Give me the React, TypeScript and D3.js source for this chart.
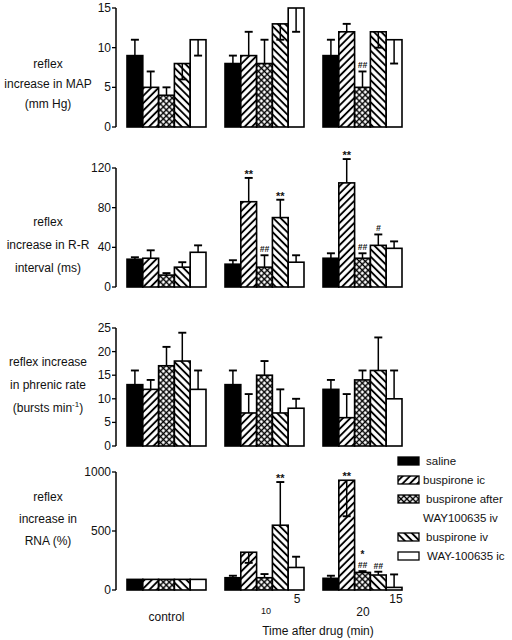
import React from "react";
import * as d3 from "d3";

// ---------- data ----------
const groups = ["control", "10", "20"];
const seriesNames = [
  "saline",
  "buspirone ic",
  "buspirone after WAY100635 iv",
  "buspirone iv",
  "WAY-100635 ic",
];

// MAP (mm Hg): mean and end of the error bar
const mapMean = [
  [9, 5, 4, 8, 11],
  [8, 9, 8, 13, 15],
  [9, 12, 5, 12, 11],
];
const mapErr = [
  [11, 7, 5, 6, 9],
  [9, 12, 11, 11, 12],
  [11, 13, 7, 10, 8],
];

// R-R interval (ms)
const rrMean = [
  [28, 29, 12, 20, 35],
  [23, 86, 20, 70, 25],
  [29, 105, 29, 42, 39],
];
const rrErr = [
  [30, 37, 14, 25, 42],
  [27, 110, 32, 88, 32],
  [34, 129, 34, 53, 46],
];

// phrenic rate (bursts/min)
const phrMean = [
  [13, 12, 17, 18, 12],
  [13, 7, 15, 7, 8],
  [12, 6, 14, 16, 10],
];
const phrErr = [
  [16, 14, 21, 24, 16],
  [16, 11, 18, 12, 10],
  [14, 11, 16, 23, 16],
];

// RNA (%)
const rnaMean = [
  [90, 90, 90, 90, 90],
  [104, 320, 104, 549, 191],
  [99, 930, 149, 127, 22],
];
const rnaErr = [
  [90, 90, 90, 90, 90],
  [121, 230, 135, 915, 282],
  [121, 625, 160, 155, 132],
];

const mapTicks = [0, 5, 10, 15];
const rrTicks = [0, 40, 80, 120];
const phrTicks = [0, 5, 10, 15, 20, 25];
const rnaTicks = [0, 500, 1000];

// significance marks: [group, series, text lines bottom-up]
const mapMarks: [number, number, string[]][] = [[2, 2, ["##"]]];
const rrMarks: [number, number, string[]][] = [
  [1, 1, ["**"]],
  [1, 2, ["##"]],
  [1, 3, ["**"]],
  [2, 1, ["**"]],
  [2, 2, ["##"]],
  [2, 3, ["#"]],
];
const phrMarks: [number, number, string[]][] = [];
const rnaMarks: [number, number, string[]][] = [
  [1, 3, ["**"]],
  [2, 1, ["**"]],
  [2, 2, ["##", "*"]],
  [2, 3, ["##"]],
];

// ---------- layout ----------
const W = 512;
const H = 640;
const AXIS_X = 116;
const FONT = "'Liberation Sans', Arial, Helvetica, sans-serif";

const panels = [
  {
    mean: mapMean, err: mapErr, ticks: mapTicks, max: 15, marks: mapMarks,
    top: 8, bottom: 127,
    label: [{ t: "reflex", y: 68 }, { t: "increase in MAP", y: 88 }, { t: "(mm Hg)", y: 108 }],
  },
  {
    mean: rrMean, err: rrErr, ticks: rrTicks, max: 120, marks: rrMarks,
    top: 168, bottom: 287,
    label: [{ t: "reflex", y: 226 }, { t: "increase in R-R", y: 249 }, { t: "interval (ms)", y: 272 }],
  },
  {
    mean: phrMean, err: phrErr, ticks: phrTicks, max: 25, marks: phrMarks,
    top: 328, bottom: 446,
    label: [{ t: "reflex increase", y: 366 }, { t: "in phrenic rate", y: 389 }, { t: "(bursts min", y: 412, sup: "-1", tail: ")" }],
  },
  {
    mean: rnaMean, err: rnaErr, ticks: rnaTicks, max: 1000, marks: rnaMarks,
    top: 472, bottom: 590,
    label: [{ t: "reflex", y: 501 }, { t: "increase in", y: 523 }, { t: "RNA (%)", y: 545 }],
  },
];

const fills = ["#000", "url(#hatchFwd)", "url(#hatchCross)", "url(#hatchBack)", "#fff"];

const xGroup = d3.scaleBand<number>().domain([0, 1, 2]).range([127, 402]).paddingInner(0.194).paddingOuter(0);
const xSeries = d3.scaleBand<number>().domain([0, 1, 2, 3, 4]).range([0, xGroup.bandwidth()]).padding(0);

function Panel({ p }: { p: (typeof panels)[number] }) {
  const y = d3.scaleLinear().domain([0, p.max]).range([p.bottom, p.top]);
  const bw = xSeries.bandwidth();
  return (
    <g>
      {/* axis */}
      <line x1={AXIS_X} x2={AXIS_X} y1={y(p.max)} y2={y(0)} stroke="#000" strokeWidth={1.5} />
      {p.ticks.map((t) => (
        <g key={t}>
          <line x1={AXIS_X - 4} x2={AXIS_X} y1={y(t)} y2={y(t)} stroke="#000" strokeWidth={1.3} />
          <text x={AXIS_X - 5} y={y(t) + 4} textAnchor="end" fontSize={12} fontFamily={FONT} fill="#111">
            {t}
          </text>
        </g>
      ))}
      {/* y label */}
      {p.label.map((l: any, i: number) => (
        <text key={i} x={48} y={l.y} textAnchor="middle" fontSize={12} fontFamily={FONT} fill="#111">
          {l.t}
          {l.sup ? (
            <tspan fontSize={8} dy={-5}>{l.sup}</tspan>
          ) : null}
          {l.tail ? <tspan dy={5}>{l.tail}</tspan> : null}
        </text>
      ))}
      {/* bars */}
      {p.mean.map((row, gi) =>
        row.map((v, si) => {
          const x0 = (xGroup(gi) as number) + (xSeries(si) as number);
          const top = y(v);
          return (
            <rect key={`b${gi}-${si}`} x={x0} y={top} width={bw} height={y(0) - top}
              fill={fills[si]} stroke="#000" strokeWidth={1.6} />
          );
        })
      )}
      {/* error bars */}
      {p.err.map((row, gi) =>
        row.map((e, si) => {
          const v = p.mean[gi][si];
          if (e === v) return null;
          const cx = (xGroup(gi) as number) + (xSeries(si) as number) + bw / 2;
          return (
            <g key={`e${gi}-${si}`} stroke="#000" strokeWidth={1.5}>
              <line x1={cx} x2={cx} y1={y(v)} y2={y(e)} />
              <line x1={cx - 4} x2={cx + 4} y1={y(e)} y2={y(e)} strokeWidth={1.9} />
            </g>
          );
        })
      )}
      {/* significance marks */}
      {p.marks.map(([gi, si, lines], k) => {
        const cx = (xGroup(gi) as number) + (xSeries(si) as number) + bw / 2;
        const topVal = Math.max(p.mean[gi][si], p.err[gi][si]);
        const base = y(topVal) - 3;
        const first = lines[0];
        const firstStar = first.includes("*");
        return (
          <text key={`m${k}`} x={cx} y={firstStar ? base + 3 : base} textAnchor="middle"
            fontFamily={FONT} fontWeight="bold" fill="#111">
            <tspan fontSize={firstStar ? 11 : 8.5} fontStyle={firstStar ? "normal" : "italic"}>{first}</tspan>
            {lines.slice(1).map((s, li) => {
              const isStar = s.includes("*");
              return (
                <tspan key={li} x={cx} dy={isStar ? -10.5 : -10} fontSize={isStar ? 10 : 8.5}
                  fontStyle={isStar ? "normal" : "italic"}>
                  {s}
                </tspan>
              );
            })}
          </text>
        );
      })}
    </g>
  );
}

const legendRows = [
  { si: 0, lines: ["saline"], y: 461, tx: 426 },
  { si: 1, lines: ["buspirone ic"], y: 480, tx: 423 },
  { si: 2, lines: ["buspirone after", "WAY100635 iv"], y: 499, tx: 426 },
  { si: 3, lines: ["buspirone iv"], y: 537, tx: 426 },
  { si: 4, lines: ["WAY-100635 ic"], y: 556, tx: 427 },
];

export default function App() {
  return (
    <svg width={W} height={H} style={{ position: "absolute", left: 0, top: 0, background: "#fff" }}>
      <defs>
        <pattern id="hatchFwd" patternUnits="userSpaceOnUse" width={5.2} height={5.2} patternTransform="rotate(45)">
          <rect width={5.2} height={5.2} fill="#fff" />
          <line x1={2.6} x2={2.6} y1={0} y2={5.2} stroke="#000" strokeWidth={1.9} />
        </pattern>
        <pattern id="hatchBack" patternUnits="userSpaceOnUse" width={5.2} height={5.2} patternTransform="rotate(-45)">
          <rect width={5.2} height={5.2} fill="#fff" />
          <line x1={2.6} x2={2.6} y1={0} y2={5.2} stroke="#000" strokeWidth={1.9} />
        </pattern>
        <pattern id="hatchCross" patternUnits="userSpaceOnUse" width={4.2} height={4.2} patternTransform="rotate(45)">
          <rect width={4.2} height={4.2} fill="#fff" />
          <line x1={2.1} x2={2.1} y1={0} y2={4.2} stroke="#000" strokeWidth={1.4} />
          <line x1={0} x2={4.2} y1={2.1} y2={2.1} stroke="#000" strokeWidth={1.4} />
        </pattern>
      </defs>
      <rect width={W} height={H} fill="#fff" />
      {panels.map((p, i) => (
        <Panel key={i} p={p} />
      ))}
      {/* legend */}
      {legendRows.map((r) => (
        <g key={r.si}>
          <rect x={398} y={r.y - 4} width={21} height={8} fill={fills[r.si]} stroke="#000" strokeWidth={1.3} />
          {r.lines.map((l, li) => (
            <text key={li} x={li === 0 ? r.tx : 423} y={r.y + 4 + li * 19} fontSize={11.5} fontFamily={FONT} fill="#111">
              {l}
            </text>
          ))}
        </g>
      ))}
      {/* x labels */}
      <text x={(xGroup(0) as number) + xGroup.bandwidth() / 2} y={621} textAnchor="middle" fontSize={12} fontFamily={FONT} fill="#111">
        {groups[0]}
      </text>
      <text x={266} y={614} textAnchor="middle" fontSize={9} fontFamily={FONT} fill="#111">{groups[1]}</text>
      <text x={297} y={603} textAnchor="middle" fontSize={12} fontFamily={FONT} fill="#111">5</text>
      <text x={363} y={616} textAnchor="middle" fontSize={12} fontFamily={FONT} fill="#111">{groups[2]}</text>
      <text x={396} y={603} textAnchor="middle" fontSize={12} fontFamily={FONT} fill="#111">15</text>
      <text x={318} y={635} textAnchor="middle" fontSize={12} fontFamily={FONT} fill="#111">Time after drug (min)</text>
    </svg>
  );
}
